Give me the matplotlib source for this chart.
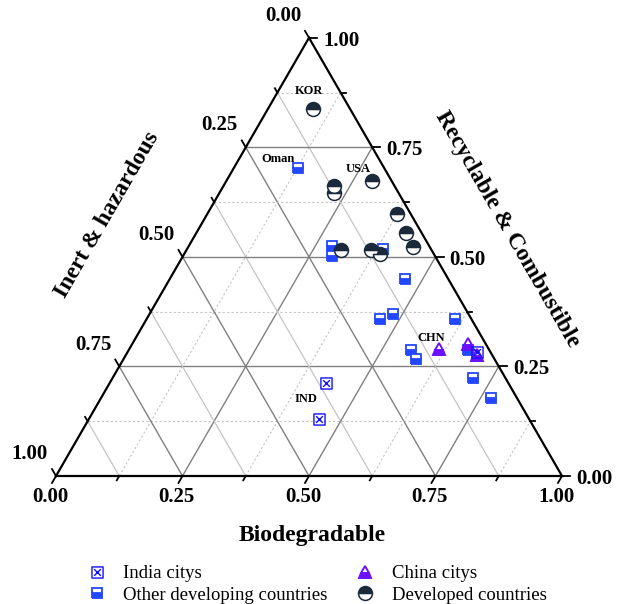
import numpy as np
import matplotlib
matplotlib.use("Agg")
import matplotlib.pyplot as plt
from matplotlib.path import Path

plt.rcParams['font.family'] = ['Liberation Serif', 'DejaVu Serif']

# --- data (Biodegradable, Recyclable & Combustible, Inert & hazardous)
india_bio = [0.427, 0.454, 0.691]
india_rec = [0.212, 0.130, 0.282]
india_inert = [0.361, 0.416, 0.027]

china_bio = [0.612, 0.663, 0.694]
china_rec = [0.289, 0.301, 0.276]
china_inert = [0.099, 0.036, 0.030]

other_bio = [0.127, 0.283, 0.294, 0.388, 0.466, 0.482, 0.462, 0.610, 0.558, 0.577, 0.671, 0.712, 0.771]
other_rec = [0.704, 0.526, 0.503, 0.517, 0.449, 0.369, 0.358, 0.358, 0.287, 0.267, 0.287, 0.223, 0.178]
other_inert = [0.169, 0.191, 0.203, 0.095, 0.085, 0.149, 0.180, 0.032, 0.155, 0.156, 0.042, 0.065, 0.051]

dev_bio = [0.088, 0.218, 0.226, 0.288, 0.376, 0.415, 0.445, 0.305, 0.366, 0.388]
dev_rec = [0.838, 0.661, 0.645, 0.674, 0.597, 0.554, 0.522, 0.515, 0.515, 0.506]
dev_inert = [0.074, 0.121, 0.129, 0.038, 0.027, 0.031, 0.033, 0.180, 0.119, 0.106]

tick_vals = [0.0, 0.25, 0.5, 0.75, 1.0]
tick_labels = ["0.00", "0.25", "0.50", "0.75", "1.00"]

country_names = ["KOR", "Oman", "USA", "CHN", "IND"]

SQ3 = np.sqrt(3) / 2
S = 506.0      # pixels per unit side
X0, Y0 = 56.0, 476.0


def tern(b, r, i):
    b, r, i = np.asarray(b, float), np.asarray(r, float), np.asarray(i, float)
    tot = b + r + i
    b, r = b / tot, r / tot
    return b + r / 2, r * SQ3


def px(xp, yp):
    return (xp - X0) / S, (Y0 - yp) / S


fig = plt.figure(figsize=(6.2, 6.04), dpi=100)
ax = fig.add_axes([0, 0, 1, 1])
ax.set_xlim(-X0 / S, (620 - X0) / S)
ax.set_ylim((Y0 - 604) / S, Y0 / S)
ax.axis('off')

# grid lines
major_c = '#808080'
minor_c = '#c4c4c4'
for k in range(1, 8):
    t = k / 8
    major = (k % 2 == 0)
    # constant recyclable (horizontal)
    xa, ya = tern(0, t, 1 - t)
    xb, yb = tern(1 - t, t, 0)
    ax.plot([xa, xb], [ya, yb], color=major_c if major else minor_c,
            lw=1.0 if major else 0.8, ls='-' if major else (0, (2, 2)), zorder=1)
    # constant biodegradable
    xa, ya = tern(t, 0, 1 - t)
    xb, yb = tern(t, 1 - t, 0)
    ax.plot([xa, xb], [ya, yb], color=major_c if major else minor_c,
            lw=1.0 if major else 0.8, ls='-' if major else (0, (2, 2)), zorder=1)
    # constant inert
    xa, ya = tern(1 - t, 0, t)
    xb, yb = tern(0, 1 - t, t)
    ax.plot([xa, xb], [ya, yb], color=major_c if major else minor_c,
            lw=1.0 if major else 0.9, ls='-', zorder=1)

# triangle frame
fx, fy = tern([0, 1, 0, 0], [0, 0, 1, 0], [1, 0, 0, 1])
ax.plot(fx, fy, color='black', lw=1.6, zorder=3, solid_joinstyle='miter')

# ticks
L_major, L_minor = 8 / S, 5 / S
for k in range(9):
    t = k / 8
    L = L_major if k % 2 == 0 else L_minor
    x, y = tern(t, 0, 1 - t)
    ax.plot([x, x - 0.5 * L], [y, y - SQ3 * L], color='black', lw=1.3, zorder=3)
    x, y = tern(1 - t, t, 0)
    ax.plot([x, x + L], [y, y], color='black', lw=1.3, zorder=3)
    x, y = tern(0, 1 - t, t)
    ax.plot([x, x - 0.5 * L], [y, y + SQ3 * L], color='black', lw=1.3, zorder=3)

tk = dict(fontsize=15, fontweight='bold')
for t, lab in zip(tick_vals, tick_labels):
    x, y = tern(t, 0, 1 - t)
    ax.text(x - 0.5 * L_major - 2 / S, y - 21 / S, lab, ha='center', va='center', **tk)
    x, y = tern(1 - t, t, 0)
    ax.text(x + L_major + 6 / S, y - 3 / S, lab, ha='left', va='center', **tk)
    x, y = tern(0, 1 - t, t)
    ax.text(x - 0.5 * L_major - 4 / S, y + SQ3 * L_major + 15 / S, lab,
            ha='right', va='center', **tk)

# axis titles
ttl = dict(fontsize=17, fontweight='bold', ha='center', va='center')
ax.text(*px(312, 535), "Biodegradable", **ttl)
ax.text(*px(107, 215), "Inert & hazardous", rotation=60, rotation_mode='anchor', **ttl)
ax.text(*px(507, 229), "Recyclable & Combustible", rotation=-60, rotation_mode='anchor', **ttl)

# markers
blue = '#2247ff'
purple = '#6a10ff'
navy = '#1b2a3a'

india_marker = Path(
    [(-1, -1), (1, -1), (1, 1), (-1, 1), (-1, -1),
     (-0.6, -0.6), (0.6, 0.6), (-0.6, 0.6), (0.6, -0.6)],
    [Path.MOVETO, Path.LINETO, Path.LINETO, Path.LINETO, Path.CLOSEPOLY,
     Path.MOVETO, Path.LINETO, Path.MOVETO, Path.LINETO])

x, y = tern(dev_bio, dev_rec, dev_inert)
h_dev, = ax.plot(x, y, ls='none', marker='o', ms=10, fillstyle='top',
                 markerfacecolor=navy, markerfacecoloralt='white',
                 markeredgecolor=navy, mew=1.1, zorder=5)

x, y = tern(other_bio, other_rec, other_inert)
h_oth, = ax.plot(x, y, ls='none', marker='s', ms=7.5, fillstyle='bottom',
                 markerfacecolor=blue, markerfacecoloralt='white',
                 markeredgecolor=blue, mew=1.3, zorder=4)

x, y = tern(china_bio, china_rec, china_inert)
h_chn, = ax.plot(x, y, ls='none', marker='^', ms=9, fillstyle='bottom',
                 markerfacecolor=purple, markerfacecoloralt='white',
                 markeredgecolor=purple, mew=1.4, zorder=6)

x, y = tern(india_bio, india_rec, india_inert)
h_ind, = ax.plot(x, y, ls='none', marker=india_marker, ms=8,
                 markerfacecolor='none', markeredgecolor='#1010ff', mew=1.0, zorder=6)

# country labels
lab_pos = [(309, 91), (278, 159), (358, 169), (431, 338), (306, 399)]
for name, (xp, yp) in zip(country_names, lab_pos):
    ax.text(*px(xp, yp), name, fontsize=9, fontweight='bold', ha='center', va='center', zorder=7)

ax.legend([h_ind, h_oth, h_chn, h_dev],
          ['India citys', 'Other developing countries', 'China citys', 'Developed countries'],
          ncol=2, loc='upper left', bbox_to_anchor=(84 / 620, 1 - 565 / 604),
          frameon=False, fontsize=13.5, handlelength=1.4, handletextpad=0.7,
          columnspacing=1.3, labelspacing=0.25, borderpad=0, borderaxespad=0)

fig.savefig('out.png', dpi=100)
